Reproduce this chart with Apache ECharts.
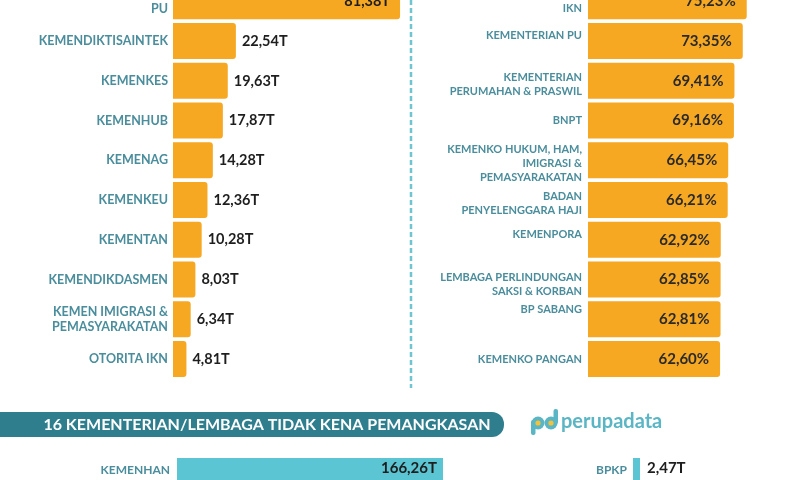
<!DOCTYPE html>
<html>
<head>
<meta charset="utf-8">
<script src="https://cdn.jsdelivr.net/npm/echarts@6.0.0/dist/echarts.min.js"></script>
<style>
  html, body { margin: 0; padding: 0; background: #fff; }
  #chart { width: 800px; height: 480px; }
</style>
</head>
<body>
<div id="chart"></div>
<script>
  // pemangkasan anggaran terbesar (triliun rupiah)
  const potongNama = ['KEMENTERIAN\nPU', 'KEMENDIKTISAINTEK', 'KEMENKES', 'KEMENHUB', 'KEMENAG',
    'KEMENKEU', 'KEMENTAN', 'KEMENDIKDASMEN', 'KEMEN IMIGRASI &\nPEMASYARAKATAN', 'OTORITA IKN']
  const potongNilai = [81.38, 22.54, 19.63, 17.87, 14.28, 12.36, 10.28, 8.03, 6.34, 4.81]

  // persentase pemangkasan terbesar
  const persenNama = ['OTORITA\nIKN', 'KEMENTERIAN PU', 'KEMENTERIAN\nPERUMAHAN & PRASWIL', 'BNPT',
    'KEMENKO HUKUM, HAM,\nIMIGRASI &\nPEMASYARAKATAN', 'BADAN\nPENYELENGGARA HAJI', 'KEMENPORA',
    'LEMBAGA PERLINDUNGAN\nSAKSI & KORBAN', 'BP SABANG', 'KEMENKO PANGAN']
  const persenNilai = [75.23, 73.35, 69.41, 69.16, 66.45, 66.21, 62.92, 62.85, 62.81, 62.60]

  // tidak kena pemangkasan
  const utuhNama = ['KEMENHAN', 'BPKP']
  const utuhNilai = [166.26, 2.47]

  const judulBawah = '16 KEMENTERIAN/LEMBAGA TIDAK KENA PEMANGKASAN'

  // label kanan yang di infografis tidak persis di tengah bar (px, + turun)
  const geserLabel = {
    'KEMENTERIAN PU': -6, 'KEMENTERIAN\nPERUMAHAN & PRASWIL': 4,
    'KEMENKO HUKUM, HAM,\nIMIGRASI &\nPEMASYARAKATAN': 3, 'BADAN\nPENYELENGGARA HAJI': 3,
    'KEMENPORA': -5, 'LEMBAGA PERLINDUNGAN\nSAKSI & KORBAN': 5, 'BP SABANG': -10
  }

  const oranye = '#f6a823'
  const tosca = '#5cc5d3'
  const teksTosca = '#4a8d9c'
  const huruf = 'Lato, "Open Sans", sans-serif'

  const fmt = (v, s) => v.toFixed(2).replace('.', ',') + s

  const myChart = echarts.init(document.getElementById('chart'))

  const sumbuNilai = (idx, max) => ({
    type: 'value', gridIndex: idx, min: 0, max: max, show: false
  })
  const sumbuNama = (idx, data, label) => ({
    type: 'category', gridIndex: idx, data: data, inverse: true,
    axisLine: { show: false }, axisTick: { show: false },
    axisLabel: Object.assign({ color: teksTosca, fontFamily: huruf, fontWeight: 'bold' }, label)
  })

  // label kanan: baris kosong tipis di atas/bawah untuk menggeser teks
  const gayaKanan = { color: teksTosca, fontFamily: huruf, fontWeight: 'bold', fontSize: 11, lineHeight: 14 }
  const richKanan = { n: gayaKanan }
  Object.keys(geserLabel).forEach(k => {
    const h = 2 * Math.abs(geserLabel[k])
    richKanan['s' + h] = { fontSize: 1, lineHeight: h }
  })
  const labelKanan = v => {
    const teks = v.split('\n').map(b => '{n|' + b + '}')
    const d = geserLabel[v]
    if (d > 0) teks.unshift('{s' + (2 * d) + '| }')
    if (d < 0) teks.push('{s' + (-2 * d) + '| }')
    return teks.join('\n')
  }

  const options = {
    animation: false,
    grid: [
      { left: 173, top: -18.5, width: 279, height: 397.4, outerBoundsMode: 'none' },
      { left: 588, top: -18.5, width: 211, height: 397.4, outerBoundsMode: 'none' },
      { left: 177, top: 458, width: 320, height: 24, outerBoundsMode: 'none' },
      { left: 633, top: 458, width: 28.3, height: 24, outerBoundsMode: 'none' }
    ],
    xAxis: [sumbuNilai(0, 100), sumbuNilai(1, 100), sumbuNilai(2, 200), sumbuNilai(3, 10)],
    yAxis: [
      sumbuNama(0, potongNama, { fontSize: 12.5, lineHeight: 15, margin: 5 }),
      sumbuNama(1, persenNama, { fontSize: 11, lineHeight: 14, margin: 6, formatter: labelKanan, rich: richKanan }),
      sumbuNama(2, [utuhNama[0]], { fontSize: 12, margin: 7, verticalAlign: 'middle', padding: [0, 0, 4, 0] }),
      sumbuNama(3, [utuhNama[1]], { fontSize: 12, margin: 6, verticalAlign: 'middle', padding: [0, 0, 4, 0] })
    ],
    series: [
      {
        type: 'bar', xAxisIndex: 0, yAxisIndex: 0, barWidth: 36,
        itemStyle: { color: oranye, borderRadius: [0, 3, 3, 0] },
        label: {
          show: true, position: 'right', distance: 6,
          color: '#1e1e1e', fontFamily: huruf, fontWeight: 'bold', fontSize: 14.5,
          formatter: p => fmt(p.value, 'T')
        },
        // bar terpanjang memuat angkanya di dalam
        data: potongNilai.map((v, i) => i === 0
          ? { value: v, label: { position: 'insideRight', distance: 10 } }
          : v)
      },
      {
        type: 'bar', xAxisIndex: 1, yAxisIndex: 1, barWidth: 36,
        itemStyle: { color: oranye, borderRadius: [0, 3, 3, 0] },
        label: {
          show: true, position: 'insideRight', distance: 11,
          color: '#2a2a2a', fontFamily: huruf, fontWeight: 'bold', fontSize: 15,
          formatter: p => fmt(p.value, '%')
        },
        data: persenNilai
      },
      {
        type: 'bar', xAxisIndex: 2, yAxisIndex: 2, barWidth: 24,
        itemStyle: { color: tosca },
        label: {
          show: true, position: 'insideRight', distance: 6, offset: [0, -2],
          color: '#1e1e1e', fontFamily: huruf, fontWeight: 'bold', fontSize: 15,
          formatter: p => fmt(p.value, 'T')
        },
        data: [utuhNilai[0]]
      },
      {
        type: 'bar', xAxisIndex: 3, yAxisIndex: 3, barWidth: 24,
        itemStyle: { color: tosca },
        label: {
          show: true, position: 'right', distance: 7, offset: [0, -2],
          color: '#1e1e1e', fontFamily: huruf, fontWeight: 'bold', fontSize: 15,
          formatter: p => fmt(p.value, 'T')
        },
        data: [utuhNilai[1]]
      }
    ],
    graphic: [
      // garis pemisah putus-putus
      {
        type: 'line', shape: { x1: 411, y1: 0, x2: 411, y2: 388 },
        style: { stroke: '#6ec6d1', lineWidth: 2.5, lineDash: [5, 3] }
      },
      // pita judul bawah
      {
        type: 'rect', shape: { x: -12, y: 412, width: 516, height: 25, r: [0, 12, 12, 0] },
        style: { fill: '#2f7e8e' }
      },
      {
        type: 'text', x: 267, y: 425,
        style: {
          text: judulBawah, fill: '#fff', font: 'bold 16px ' + huruf,
          textAlign: 'center', textVerticalAlign: 'middle'
        }
      },
      // logo perupadata
      { type: 'rect', shape: { x: 531, y: 420, width: 4.5, height: 15, r: 2 }, style: { fill: '#5ab5c4' } },
      { type: 'rect', shape: { x: 553.5, y: 409, width: 4.5, height: 15, r: 2 }, style: { fill: '#5ab5c4' } },
      { type: 'circle', shape: { cx: 538, cy: 423, r: 6.5 }, style: { fill: '#5ab5c4' } },
      { type: 'circle', shape: { cx: 551, cy: 423, r: 6.5 }, style: { fill: '#5ab5c4' } },
      { type: 'circle', shape: { cx: 538, cy: 423, r: 2.6 }, style: { fill: '#f3c13a' } },
      { type: 'circle', shape: { cx: 551, cy: 423, r: 2.6 }, style: { fill: '#f3c13a' } },
      {
        type: 'text', x: 561, y: 422,
        style: {
          text: 'perupadata', fill: '#5ab5c4', font: 'bold 20px ' + huruf,
          textVerticalAlign: 'middle'
        }
      }
    ]
  }
  myChart.setOption(options)
</script>
</body>
</html>
